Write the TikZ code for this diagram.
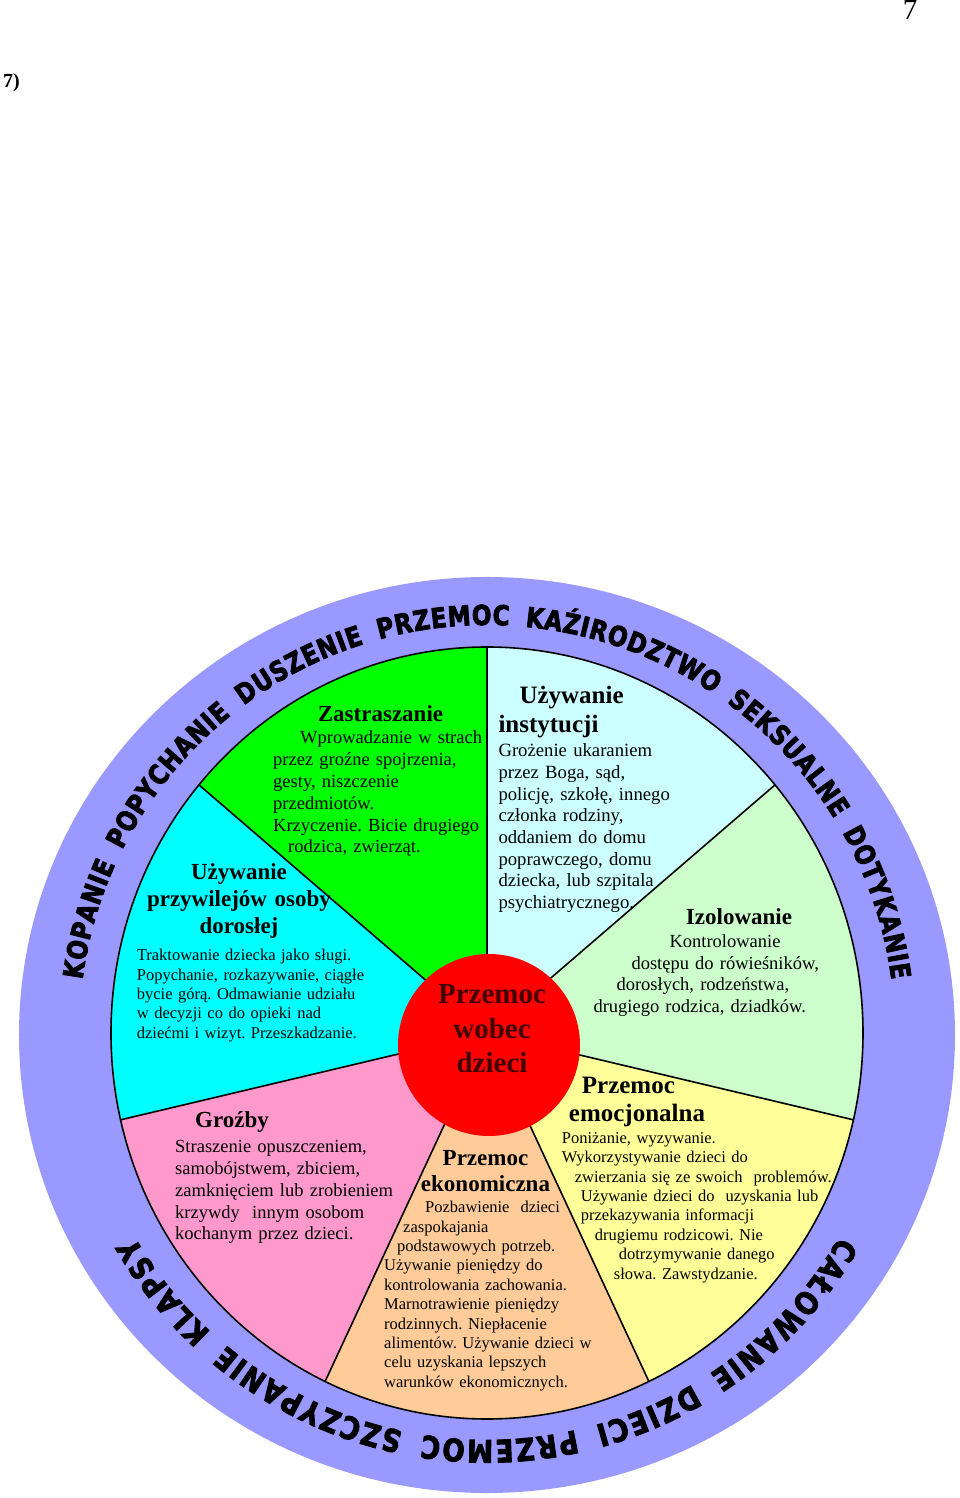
\documentclass[tikz,border=0pt]{standalone}
\usepackage{fontspec}
\setmainfont{Liberation Serif}
\newfontfamily\ringfont{DejaVu Sans Bold}[FakeStretch=0.84, FakeBold=3, WordSpace=1.8]
\usetikzlibrary{decorations.text}
\frenchspacing

\definecolor{ringcol}{HTML}{9999FF}
\definecolor{instcol}{HTML}{CCFFFF}
\definecolor{izolcol}{HTML}{CCFFCC}
\definecolor{emocol}{HTML}{FFFF99}
\definecolor{ekocol}{HTML}{FFCC99}
\definecolor{grozcol}{HTML}{FF99CC}
\definecolor{przywcol}{HTML}{00FFFF}
\definecolor{zastcol}{HTML}{00FF00}
\definecolor{hubred}{HTML}{FF0000}
\definecolor{hubtext}{HTML}{420000}

\newcommand{\bodyL}{\fontsize{18.5}{21.8}\selectfont}
\newcommand{\bodyS}{\fontsize{16.5}{19.4}\selectfont}

\begin{document}
\begin{tikzpicture}[x=1pt, y=1pt,
    head/.style={inner sep=0pt, text width=#1, font=\bfseries\fontsize{23}{27}\selectfont},
    blurb/.style={inner sep=0pt, text width=#1, align=left, anchor=base west},
    ray/.style={line width=1.6pt},
    ringtext/.style={decorate, decoration={text along path, text align={fit to path}, text={#1}}}
]
\useasboundingbox (-487,-465) rectangle (473,1033);

% Ring
\fill[ringcol] (0,-2) ellipse [x radius=468, y radius=458];

% Sectors
\fill[instcol] (0,0) -- (90:376 and 386) arc[start angle=90, end angle=40, x radius=376, y radius=386] -- cycle;
\fill[izolcol] (0,0) -- (40:376 and 386) arc[start angle=40, end angle=-13, x radius=376, y radius=386] -- cycle;
\fill[emocol] (0,0) -- (-13:376 and 386) arc[start angle=-13, end angle=-64.5, x radius=376, y radius=386] -- cycle;
\fill[ekocol] (0,0) -- (-64.5:376 and 386) arc[start angle=-64.5, end angle=-115.5, x radius=376, y radius=386] -- cycle;
\fill[grozcol] (0,0) -- (-115.5:376 and 386) arc[start angle=-115.5, end angle=-167, x radius=376, y radius=386] -- cycle;
\fill[przywcol] (0,0) -- (-167:376 and 386) arc[start angle=-167, end angle=-220, x radius=376, y radius=386] -- cycle;
\fill[zastcol] (0,0) -- (140:376 and 386) arc[start angle=140, end angle=90, x radius=376, y radius=386] -- cycle;

% Border and spokes
\draw[ray] (0,0) ellipse [x radius=376, y radius=386];
\draw[ray] (0,0) -- (90:376 and 386) (0,0) -- (40:376 and 386)
    (0,0) -- (-13:376 and 386) (0,0) -- (-64.5:376 and 386)
    (0,0) -- (-115.5:376 and 386) (0,0) -- (-167:376 and 386)
    (0,0) -- (140:376 and 386);

% Hub
\node[circle, fill=hubred, minimum size=182pt, inner sep=0pt] (hub) at (2,-12) {};
\node[head=115pt, align=center, anchor=base, text=hubtext,
      font=\bfseries\fontsize{29}{34.5}\selectfont] (hubtxt) at (5,29) {Przemoc\\wobec\\dzieci};

% Ring text
\path[ringtext={|\ringfont\fontsize{27.5}{30}\selectfont|KOPANIE POPYCHANIE DUSZENIE PRZEMOC KAŹIRODZTWO SEKSUALNE DOTYKANIE}]
    (172.5:408) arc[start angle=172.5, end angle=7.5, radius=408];
\path[ringtext={|\ringfont\fontsize{31}{33}\selectfont|CAŁOWANIE DZIECI PRZEMOC SZCZYPANIE KLAPSY}]
    (-30:407) arc[start angle=-30, end angle=-150, radius=407];

% Sector labels
\node[head=130pt, align=center, anchor=base] (zastT) at (-106.5,311.3) {Zastraszanie};
\node[blurb=220pt, font=\bodyL] (zastB) at (-214,289) {\hspace*{27pt}Wprowadzanie w strach\\przez groźne spojrzenia,\\gesty, niszczenie\\przedmiotów.\\Krzyczenie. Bicie drugiego\\\hspace*{15pt}rodzica, zwierząt.};

\node[head=190pt, align=center, anchor=base] (przywT) at (-248,153) {Używanie\\przywilejów osoby\\dorosłej};
\node[blurb=240pt, font=\bodyS] (przywB) at (-350.3,72.3) {Traktowanie dziecka jako sługi.\\Popychanie, rozkazywanie, ciągłe\\bycie górą. Odmawianie udziału\\w decyzji co do opieki nad\\dziećmi i wizyt. Przeszkadzanie.};

\node[head=130pt, align=left, anchor=base west, font=\bfseries\fontsize{25}{29.4}\selectfont] (instT) at (11.3,329.7) {\hspace*{21pt}Używanie\\instytucji};
\node[blurb=185pt, font=\fontsize{18.7}{21.7}\selectfont] (instB) at (11.3,276.3) {Grożenie ukaraniem\\przez Boga, sąd,\\policję, szkołę, innego\\członka rodziny,\\oddaniem do domu\\poprawczego, domu\\dziecka, lub szpitala\\psychiatrycznego.};

\node[head=110pt, align=center, anchor=base] (izolT) at (252,108) {Izolowanie};
\node[blurb=240pt, font=\bodyL] (izolB) at (106.3,85.7) {\hspace*{76pt}Kontrolowanie\\\hspace*{38pt}dostępu do rówieśników,\\\hspace*{23pt}dorosłych, rodzeństwa,\\drugiego rodzica, dziadków.};

\node[head=140pt, align=left, anchor=base west, font=\bfseries\fontsize{25}{28.4}\selectfont] (emoT) at (81.7,-60.3) {\hspace*{13pt}Przemoc\\emocjonalna};
\node[blurb=280pt, font=\bodyS] (emoB) at (74.7,-110.3) {Poniżanie, wyzywanie.\\Wykorzystywanie dzieci do\\\hspace*{13pt}zwierzania się ze swoich~ problemów.\\\hspace*{19pt}Używanie dzieci do~ uzyskania lub\\\hspace*{19pt}przekazywania informacji\\\hspace*{33pt}drugiemu rodzicowi. Nie\\\hspace*{57pt}dotrzymywanie danego\\\hspace*{52pt}słowa. Zawstydzanie.};

\node[head=135pt, align=center, anchor=base, font=\bfseries\fontsize{23}{26.7}\selectfont] (ekoT) at (-1.5,-132) {Przemoc\\ekonomiczna};
\node[blurb=222pt, font=\bodyS] (ekoB) at (-103,-179.7) {\hspace*{41pt}Pozbawienie~ dzieci\\\hspace*{19pt}zaspokajania\\\hspace*{13pt}podstawowych potrzeb.\\Używanie pieniędzy do\\kontrolowania zachowania.\\Marnotrawienie pieniędzy\\rodzinnych. Niepłacenie\\alimentów. Używanie dzieci w\\celu uzyskania lepszych\\warunków ekonomicznych.};

\node[head=80pt, align=left, anchor=base west] (grozT) at (-292,-94.7) {Groźby};
\node[blurb=230pt, font=\bodyL] (grozB) at (-312,-119.7) {Straszenie opuszczeniem,\\samobójstwem, zbiciem,\\zamknięciem lub zrobieniem\\krzywdy~ innym osobom\\kochanym przez dzieci.};

% Page marks
\node[anchor=base, inner sep=0pt, font=\fontsize{29}{29}\selectfont] (pagenum) at (423,1013) {7};
\node[anchor=base east, inner sep=0pt, font=\bfseries\fontsize{20}{20}\selectfont] (fignum) at (-467,945) {7)};

\end{tikzpicture}
\end{document}
